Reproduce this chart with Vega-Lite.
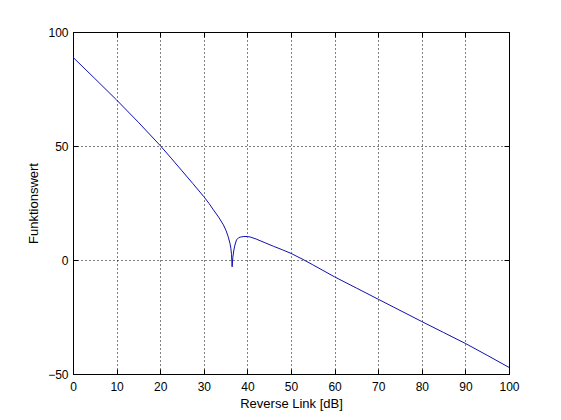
{
  "$schema": "https://vega.github.io/schema/vega-lite/v6.json",
  "width": 436,
  "height": 342,
  "autosize": {"type": "none"},
  "padding": {"left": 73, "top": 32, "right": 52, "bottom": 46},
  "background": "white",
  "config": {
    "view": {"stroke": "black", "strokeWidth": 1},
    "font": "Liberation Sans",
    "axis": {
      "labelFont": "Liberation Sans",
      "labelFontSize": 12,
      "labelColor": "black",
      "titleFont": "Liberation Sans",
      "titleFontSize": 13,
      "titleFontWeight": "normal",
      "titleColor": "black",
      "domainColor": "black",
      "tickColor": "black",
      "tickSize": -5,
      "gridColor": "black",
      "gridDash": [1, 3],
      "gridOpacity": 1,
      "gridWidth": 1
    }
  },
  "data": {
    "values": [
      {"x": 0, "y": 88.9},
      {"x": 5, "y": 79.6},
      {"x": 10, "y": 70.2},
      {"x": 15, "y": 60.4},
      {"x": 20, "y": 50.2},
      {"x": 22.5, "y": 44.7},
      {"x": 25, "y": 39.1},
      {"x": 27.5, "y": 33.5},
      {"x": 30, "y": 27.8},
      {"x": 31.2, "y": 24.8},
      {"x": 32.2, "y": 22.0},
      {"x": 33.4, "y": 18.8},
      {"x": 34.5, "y": 15.4},
      {"x": 35.1, "y": 12.9},
      {"x": 35.6, "y": 10.2},
      {"x": 36.0, "y": 7.3},
      {"x": 36.2, "y": 5.2},
      {"x": 36.35, "y": 2.5},
      {"x": 36.5, "y": -3.0},
      {"x": 36.65, "y": 1.0},
      {"x": 36.9, "y": 4.4},
      {"x": 37.2, "y": 7.0},
      {"x": 37.5, "y": 8.8},
      {"x": 38.0, "y": 9.8},
      {"x": 38.5, "y": 10.1},
      {"x": 39.2, "y": 10.3},
      {"x": 40.0, "y": 10.3},
      {"x": 40.8, "y": 10.0},
      {"x": 42.0, "y": 9.2},
      {"x": 44.0, "y": 7.6},
      {"x": 46.0, "y": 6.0},
      {"x": 48.0, "y": 4.5},
      {"x": 50.0, "y": 2.9},
      {"x": 53.0, "y": 0.0},
      {"x": 55.0, "y": -2.1},
      {"x": 60.0, "y": -7.4},
      {"x": 65.0, "y": -12.3},
      {"x": 70.0, "y": -17.2},
      {"x": 75.0, "y": -22.1},
      {"x": 80.0, "y": -27.0},
      {"x": 85.0, "y": -31.8},
      {"x": 90.0, "y": -36.6},
      {"x": 95.0, "y": -41.8},
      {"x": 100.0, "y": -47.1}
    ]
  },
  "layer": [
    {
      "mark": {"type": "line", "color": "#1010b0", "strokeWidth": 1, "clip": true},
      "encoding": {
        "x": {
          "field": "x", "type": "quantitative",
          "scale": {"domain": [0, 100], "nice": false, "zero": false},
          "axis": {
            "orient": "bottom", "title": "Reverse Link [dB]",
            "values": [0, 10, 20, 30, 40, 50, 60, 70, 80, 90, 100],
            "grid": true, "labelPadding": 12, "titlePadding": 5,
            "labelFlush": false
          }
        },
        "y": {
          "field": "y", "type": "quantitative",
          "scale": {"domain": [-50, 100], "nice": false, "zero": false},
          "axis": {
            "orient": "left", "title": "Funktionswert",
            "values": [-50, 0, 50, 100],
            "grid": true, "labelPadding": 10, "titlePadding": 7,
            "labelFlush": false
          }
        }
      }
    },
    {
      "mark": {"type": "line", "color": "#1010b0", "strokeWidth": 1, "strokeOpacity": 0},
      "encoding": {
        "x": {
          "field": "x", "type": "quantitative",
          "scale": {"domain": [0, 100], "nice": false, "zero": false},
          "axis": {
            "orient": "top", "title": null, "labels": false, "grid": false,
            "values": [0, 10, 20, 30, 40, 50, 60, 70, 80, 90, 100]
          }
        },
        "y": {
          "field": "y", "type": "quantitative",
          "scale": {"domain": [-50, 100], "nice": false, "zero": false},
          "axis": {
            "orient": "right", "title": null, "labels": false, "grid": false,
            "values": [-50, 0, 50, 100]
          }
        }
      }
    }
  ],
  "resolve": {"axis": {"x": "independent", "y": "independent"}}
}
